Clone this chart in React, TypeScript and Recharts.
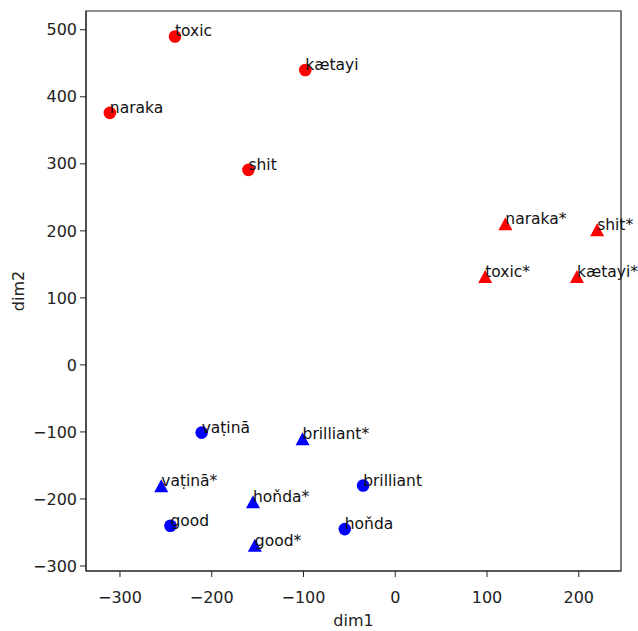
import React from 'react'
import {
  ScatterChart,
  Scatter,
  XAxis,
  YAxis,
  ReferenceArea,
} from 'recharts'

// words shown in the plot (the starred version is the triangle marker)
const redWords = ['toxic', 'kætayi', 'naraka', 'shit']
const redCircleX = [-240, -98, -311, -160]
const redCircleY = [490, 440, 376, 291]
const redTriangleX = [98, 198, 120, 220]
const redTriangleY = [131, 131, 210, 201]

const blueWords = ['vaṭinā', 'brilliant', 'good', 'hoňda']
const blueCircleX = [-211, -35, -245, -55]
const blueCircleY = [-101, -180, -240, -245]
const blueTriangleX = [-255, -101, -153, -155]
const blueTriangleY = [-181, -111, -270, -205]

const xTicks = [-300, -200, -100, 0, 100, 200]
const yTicks = [-300, -200, -100, 0, 100, 200, 300, 400, 500]
const xDomain = [-337, 246]
const yDomain = [-307.5, 528]

const FONT = '"DejaVu Sans", sans-serif'

const build = (words: string[], xs: number[], ys: number[], star: boolean) =>
  words.map((w, i) => ({ x: xs[i], y: ys[i], label: star ? w + '*' : w }))

const redCircles = build(redWords, redCircleX, redCircleY, false)
const redTriangles = build(redWords, redTriangleX, redTriangleY, true)
const blueCircles = build(blueWords, blueCircleX, blueCircleY, false)
const blueTriangles = build(blueWords, blueTriangleX, blueTriangleY, true)

const fmt = (v: number) => String(v).replace('-', '\u2212')

const makeShape = (color: string, kind: 'circle' | 'triangle') => (props: any) => {
  const { cx, cy, payload } = props
  return (
    <g>
      {kind === 'circle' ? (
        <circle cx={cx} cy={cy} r={6.3} fill={color} />
      ) : (
        <polygon
          points={`${cx},${cy - 7} ${cx - 7},${cy + 6} ${cx + 7},${cy + 6}`}
          fill={color}
        />
      )}
      <text x={cx} y={cy} fontSize={15.5} fontFamily={FONT} fill="#111">
        {payload.label}
      </text>
    </g>
  )
}

export default function App() {
  const tickStyle = { fontSize: 16, fontFamily: FONT, fill: '#222' }
  return (
    <div style={{ position: 'absolute', left: 0, top: 0, background: '#fff' }}>
      <ScatterChart
        width={638}
        height={631}
        margin={{ top: 11, right: 17, bottom: 0, left: 0 }}
      >
        <XAxis
          type="number"
          dataKey="x"
          domain={xDomain}
          ticks={xTicks}
          height={60}
          tick={tickStyle}
          tickFormatter={fmt}
          tickSize={6}
          tickMargin={15}
          stroke="#222"
          label={({ viewBox }: any) => (
            <text
              x={viewBox.x + viewBox.width / 2}
              y={viewBox.y + 55}
              textAnchor="middle"
              fontSize={16}
              fontFamily={FONT}
              fill="#222"
            >
              dim1
            </text>
          )}
        />
        <YAxis
          type="number"
          dataKey="y"
          domain={yDomain}
          ticks={yTicks}
          width={86}
          tick={tickStyle}
          tickFormatter={fmt}
          tickSize={6}
          tickMargin={3}
          stroke="#222"
          label={({ viewBox }: any) => {
            const cy = viewBox.y + viewBox.height / 2
            return (
              <text
                x={24}
                y={cy}
                transform={`rotate(-90, 24, ${cy})`}
                textAnchor="middle"
                fontSize={16}
                fontFamily={FONT}
                fill="#222"
              >
                dim2
              </text>
            )
          }}
        />
        <ReferenceArea
          x1={xDomain[0]}
          x2={xDomain[1]}
          y1={yDomain[0]}
          y2={yDomain[1]}
          fill="none"
          stroke="#222"
          strokeWidth={1.2}
          fillOpacity={0}
        />
        <Scatter data={redCircles} shape={makeShape('#ff0000', 'circle')} isAnimationActive={false} />
        <Scatter data={redTriangles} shape={makeShape('#ff0000', 'triangle')} isAnimationActive={false} />
        <Scatter data={blueCircles} shape={makeShape('#0000ff', 'circle')} isAnimationActive={false} />
        <Scatter data={blueTriangles} shape={makeShape('#0000ff', 'triangle')} isAnimationActive={false} />
      </ScatterChart>
    </div>
  )
}
